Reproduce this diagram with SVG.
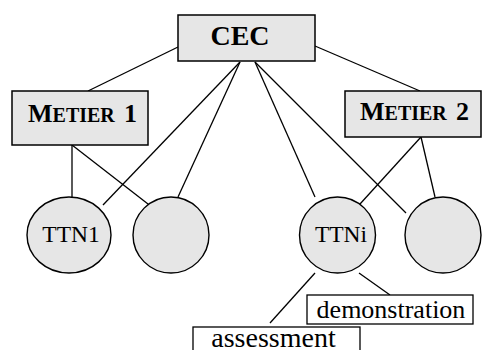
<svg xmlns="http://www.w3.org/2000/svg" width="493" height="350" viewBox="0 0 493 350">
<style>
.box{fill:#e6e6e6;stroke:#000;stroke-width:1.5}
.wbox{fill:#fff;stroke:#000;stroke-width:1.3}
.node{fill:#e6e6e6;stroke:#000;stroke-width:1.4}
.ln{stroke:#000;stroke-width:1.3;fill:none}
text{fill:#000;font-family:'Liberation Serif','Times New Roman',Times,serif}
</style>
<rect width="493" height="350" fill="#fff"/>
<g id="connectors">
<line class="ln" x1="178" y1="47" x2="88" y2="91"/>
<line class="ln" x1="315" y1="46" x2="420" y2="91"/>
<line class="ln" x1="240" y1="62" x2="103" y2="205"/>
<line class="ln" x1="240" y1="62" x2="178" y2="197"/>
<line class="ln" x1="255" y1="62" x2="315" y2="197"/>
<line class="ln" x1="255" y1="62" x2="406" y2="213"/>
<line class="ln" x1="72" y1="145" x2="72" y2="197"/>
<line class="ln" x1="72" y1="145" x2="148" y2="204"/>
<line class="ln" x1="421" y1="137" x2="360" y2="204"/>
<line class="ln" x1="421" y1="137" x2="435" y2="197"/>
<line class="ln" x1="315" y1="273" x2="270" y2="323"/>
<line class="ln" x1="359" y1="273" x2="390" y2="295"/>
</g>
<g id="cec">
<rect class="box" x="178" y="15" width="137" height="46"/>
<text x="240" y="45" font-weight="bold" font-size="28" text-anchor="middle">CEC</text>
</g>
<g id="metier1">
<rect class="box" x="12" y="91" width="136" height="54"/>
<text x="28" y="122" font-weight="bold" font-size="26">M<tspan font-size="20">ETIER</tspan> <tspan x="124">1</tspan></text>
</g>
<g id="metier2">
<rect class="box" x="345" y="91" width="136" height="46"/>
<text x="360" y="120" font-weight="bold" font-size="26">M<tspan font-size="20">ETIER</tspan> <tspan x="456">2</tspan></text>
</g>
<g id="ttn1">
<ellipse class="node" cx="69" cy="235" rx="42" ry="38"/>
<text x="71" y="242" font-size="23.5" text-anchor="middle">TTN1</text>
</g>
<g id="node2">
<circle class="node" cx="171" cy="235" r="38"/>
</g>
<g id="ttni">
<circle class="node" cx="337.5" cy="235" r="38"/>
<text x="341" y="242" font-size="23.5" text-anchor="middle">TTNi</text>
</g>
<g id="node4">
<circle class="node" cx="443" cy="235" r="38"/>
</g>
<g id="demonstration">
<rect class="wbox" x="307" y="295" width="166" height="29"/>
<text x="391" y="318" font-size="26" text-anchor="middle">demonstration</text>
</g>
<g id="assessment">
<rect class="wbox" x="193" y="327" width="167" height="35"/>
<text x="273.5" y="347" font-size="28" text-anchor="middle">assessment</text>
</g>
</svg>
